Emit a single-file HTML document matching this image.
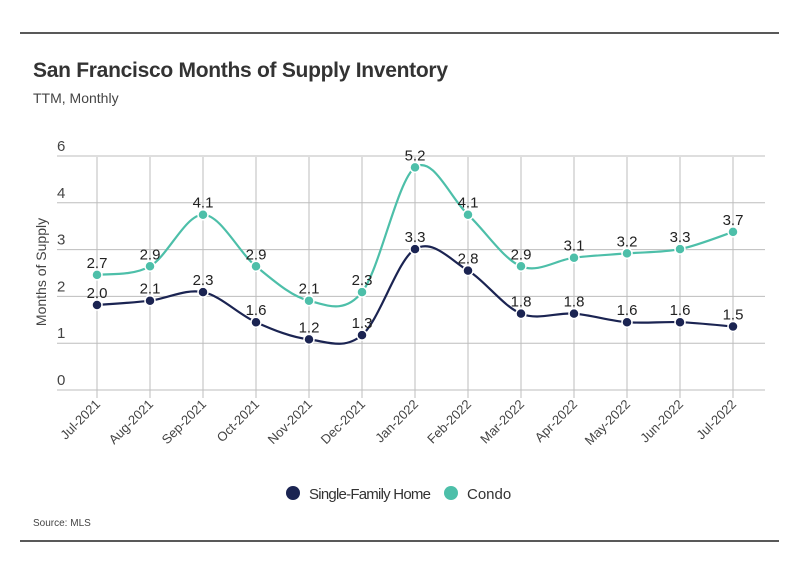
<!DOCTYPE html>
<html><head><meta charset="utf-8"><style>
body{margin:0;background:#fff;font-family:"Liberation Sans",sans-serif}
</style></head><body>
<svg id="chart" width="799" height="575" xmlns="http://www.w3.org/2000/svg">
<line x1="20" y1="33" x2="779" y2="33" stroke="#222" stroke-width="1.5"/>
<text x="33" y="77" font-size="21" font-weight="bold" fill="#333" textLength="415">San Francisco Months of Supply Inventory</text>
<text x="33" y="103" font-size="14" fill="#444">TTM, Monthly</text>
<g id="grid"></g>
<text transform="translate(46,272) rotate(-90)" text-anchor="middle" font-size="14" fill="#444">Months of Supply</text>
<g id="series"></g>
<g>
<circle cx="293" cy="493" r="7" fill="#1b2452"/>
<text x="309" y="499" font-size="15" fill="#333" textLength="122">Single-Family Home</text>
<circle cx="451" cy="493" r="7" fill="#4dbfa9"/>
<text x="467" y="499" font-size="15" fill="#333">Condo</text>
</g>
<text x="33" y="526" font-size="10" fill="#444">Source:  MLS</text>
<line x1="20" y1="541" x2="779" y2="541" stroke="#222" stroke-width="1.5"/>
</svg>
<script>
const categories=["Jul-2021","Aug-2021","Sep-2021","Oct-2021","Nov-2021","Dec-2021","Jan-2022","Feb-2022","Mar-2022","Apr-2022","May-2022","Jun-2022","Jul-2022"];
const sfhValues=[2.0,2.1,2.3,1.6,1.2,1.3,3.3,2.8,1.8,1.8,1.6,1.6,1.5];
const condoValues=[2.7,2.9,4.1,2.9,2.1,2.3,5.2,4.1,2.9,3.1,3.2,3.3,3.7];
const yTickLabels=["0","1","2","3","4","6"];
const NS="http://www.w3.org/2000/svg";
const xs=i=>97+i*53;
const ys=v=>391-43*v;
const tickY=i=>390-i*46.8;
const grid=document.getElementById('grid');
function mk(t,a,p){const e=document.createElementNS(NS,t);for(const k in a)e.setAttribute(k,a[k]);(p||grid).appendChild(e);return e;}
yTickLabels.forEach((l,i)=>{
 const ln=mk('line',{x1:57,x2:765,y1:tickY(i),y2:tickY(i),stroke:'#bdbdbd','stroke-width':1});
 
 
 const t=mk('text',{x:57,y:tickY(i)-5,'font-size':15,fill:'#444'});t.textContent=l;
 
 
});
categories.forEach((c,i)=>{
 const ln=mk('line',{x1:xs(i),x2:xs(i),y1:157,y2:398,stroke:'#bdbdbd','stroke-width':1});
 
 
 const t=mk('text',{x:xs(i)+4,y:405,'font-size':13,fill:'#444','text-anchor':'end',transform:`rotate(-45 ${xs(i)+4} 405)`});t.textContent=c;
 
 
});
const ser=document.getElementById('series');
function path(vals){
 const p=vals.map((v,i)=>[xs(i),ys(v)]);let d=`M${p[0][0]},${p[0][1]}`;
 for(let i=0;i<p.length-1;i++){const p0=p[i-1]||p[i],p1=p[i],p2=p[i+1],p3=p[i+2]||p2;
  const c1=[p1[0]+(p2[0]-p0[0])/6,p1[1]+(p2[1]-p0[1])/6],c2=[p2[0]-(p3[0]-p1[0])/6,p2[1]-(p3[1]-p1[1])/6];
  d+=` C${c1[0]},${c1[1]} ${c2[0]},${c2[1]} ${p2[0]},${p2[1]}`;}
 return d;}
function draw(vals,color,name){
 const pth=mk('path',{d:path(vals),fill:'none',stroke:color,'stroke-width':2.2},ser);
 
 
 vals.forEach((v,i)=>{
  const c=mk('circle',{cx:xs(i),cy:ys(v),r:5,fill:color,stroke:'#fff','stroke-width':1.5},ser);
  
  
  const t=mk('text',{x:xs(i),y:ys(v)-7,'font-size':15,fill:'#222','text-anchor':'middle'},ser);t.textContent=v.toFixed(1);
  
  
 });}
draw(condoValues,'#4dbfa9','condo');
draw(sfhValues,'#1b2452','sfh');
</script>
</body></html>
